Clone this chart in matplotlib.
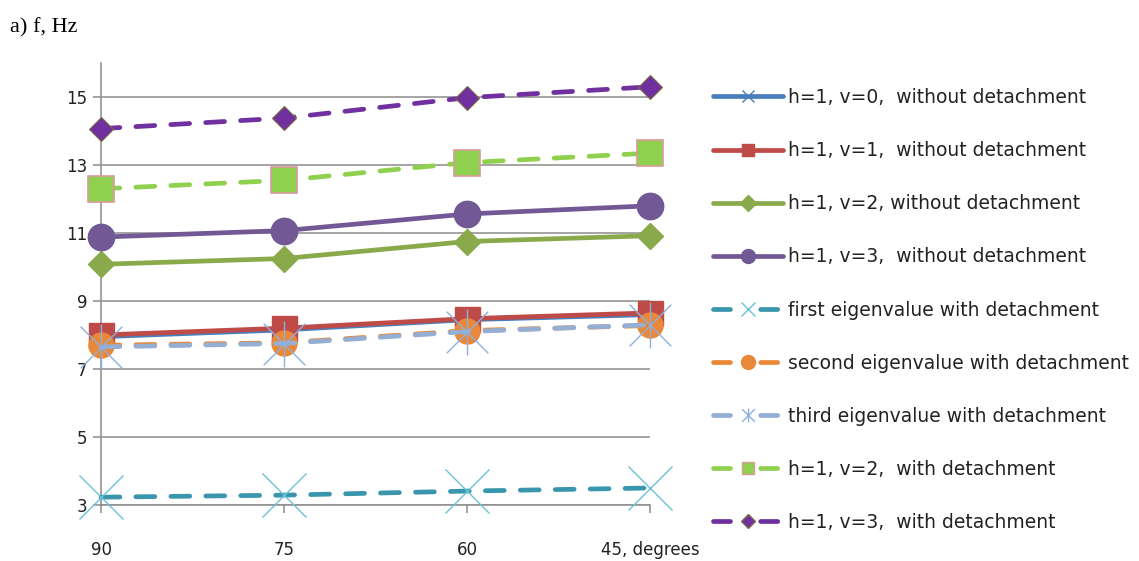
import matplotlib
matplotlib.use("Agg")
import matplotlib.pyplot as plt
from matplotlib.lines import Line2D
from matplotlib.path import Path
import numpy as np

categories = ["90", "75", "60", "45, degrees"]
v0_without = [7.95, 8.15, 8.45, 8.6]
v1_without = [8.0, 8.2, 8.48, 8.65]
v2_without = [10.08, 10.25, 10.75, 10.92]
v3_without = [10.88, 11.07, 11.56, 11.8]
first_eig = [3.23, 3.29, 3.41, 3.5]
second_eig = [7.7, 7.77, 8.13, 8.28]
third_eig = [7.65, 7.75, 8.1, 8.3]
v2_with = [12.3, 12.55, 13.07, 13.35]
v3_with = [14.07, 14.38, 14.98, 15.3]

labels = [
    "h=1, v=0,  without detachment",
    "h=1, v=1,  without detachment",
    "h=1, v=2, without detachment",
    "h=1, v=3,  without detachment",
    "first eigenvalue with detachment",
    "second eigenvalue with detachment",
    "third eigenvalue with detachment",
    "h=1, v=2,  with detachment",
    "h=1, v=3,  with detachment",
]

asterisk = Path([(-1, -1), (1, 1), (-1, 1), (1, -1), (0, -1.1), (0, 1.1)],
                [Path.MOVETO, Path.LINETO, Path.MOVETO, Path.LINETO, Path.MOVETO, Path.LINETO])

plt.rcParams['font.family'] = ['DejaVu Sans']
fig = plt.figure(figsize=(11.39, 5.61), dpi=100)
ax = fig.add_axes([101/1139, 56/561, 549/1139, 442/561])

x = np.arange(len(categories))
LW = 3.4
dash = (4.0, 3.4)

styles = [
    dict(data=v0_without, color="#4A7EBB", ls="-", marker="x", ms=12, mfc="#4A7EBB", mec="#4A7EBB", mew=1.2),
    dict(data=v1_without, color="#BE4B48", ls="-", marker="s", ms=18, mfc="#BE4B48", mec="#BE4B48", mew=1),
    dict(data=v2_without, color="#8AA94B", ls="-", marker="D", ms=13, mfc="#8AA94B", mec="#8AA94B", mew=1),
    dict(data=v3_without, color="#725996", ls="-", marker="o", ms=19, mfc="#725996", mec="#725996", mew=1),
    dict(data=first_eig, color="#3A96AD", ls="--", marker="x", ms=31, mfc="none", mec="#6BC2D6", mew=1.0),
    dict(data=second_eig, color="#E98838", ls="--", marker="o", ms=18, mfc="#E98838", mec="#E98838", mew=1),
    dict(data=third_eig, color="#94AED4", ls="--", marker=asterisk, ms=33, mfc="none", mec="#8DB0DD", mew=1.0),
    dict(data=v2_with, color="#8FD14F", ls="--", marker="s", ms=19, mfc="#8FD14F", mec="#D99A9A", mew=1.2),
    dict(data=v3_with, color="#7030A0", ls="--", marker="D", ms=12.5, mfc="#7030A0", mec="#7A6A40", mew=0.8),
]

for i, s in enumerate(styles):
    kw = dict(color=s["color"], lw=LW, marker=s["marker"], ms=s["ms"],
              mfc=s["mfc"], mec=s["mec"], mew=s["mew"], clip_on=False, zorder=3 + i,
              solid_capstyle="round", dash_capstyle="round")
    if s["ls"] == "--":
        kw["dashes"] = dash
    ax.plot(x, s["data"], **kw)

ax.set_xlim(0, 3)
ax.set_ylim(3, 16)
ax.set_yticks([3, 5, 7, 9, 11, 13, 15])
ax.set_xticks(x)
ax.set_xticklabels(categories)
ax.grid(axis="y", color="#8C8C8C", lw=1.1, zorder=0)
ax.set_axisbelow(True)
for sp in ["top", "right"]:
    ax.spines[sp].set_visible(False)
for sp in ["left", "bottom"]:
    ax.spines[sp].set_color("#8C8C8C")
    ax.spines[sp].set_linewidth(1.1)
ax.tick_params(axis="y", direction="out", length=6, width=1.1, color="#8C8C8C",
               labelsize=12, labelcolor="#222222", pad=4)
ax.tick_params(axis="x", direction="out", length=6, width=1.1, color="#8C8C8C",
               labelsize=12, labelcolor="#222222", pad=20)

fig.text(10/1139, 1 - 28/561, "a) f, Hz", fontsize=16, family="Liberation Serif",
         va="center", ha="left", color="black")

handles = []
for i, s in enumerate(styles):
    ms = {0: 8, 1: 9, 2: 8, 3: 10, 4: 10, 5: 10, 6: 10, 7: 9, 8: 7}[i]
    kw = dict(color=s["color"], lw=LW, marker=s["marker"], markersize=ms,
              markerfacecolor=s["mfc"], markeredgecolor=s["mec"], markeredgewidth=1,
              solid_capstyle="round", dash_capstyle="round")
    if s["ls"] == "--":
        kw["dashes"] = (3.6, 6.4)
    handles.append(Line2D([0], [0], **kw))

fig.legend(handles, labels, loc="upper left", bbox_to_anchor=(713/1139, 1 - 88/561),
           frameon=False, fontsize=13.5, labelspacing=1.82, handlelength=3.73,
           handletextpad=0.27, borderpad=0, borderaxespad=0, labelcolor="#222222")

fig.savefig("out.png", dpi=100)
